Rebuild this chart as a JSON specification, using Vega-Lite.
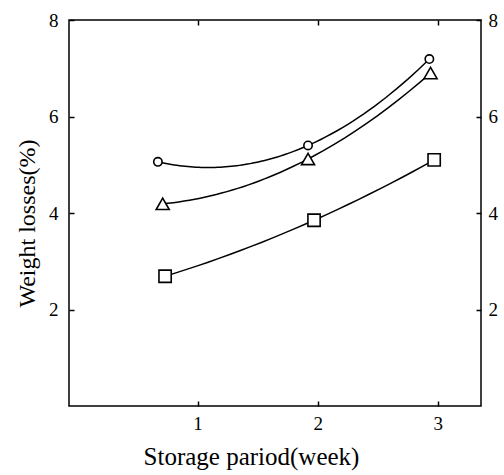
{
  "$schema": "https://vega.github.io/schema/vega-lite/v6.json",
  "width": 412,
  "height": 386,
  "autosize": {"type": "none"},
  "padding": {"left": 69, "top": 20, "right": 23, "bottom": 69},
  "background": "white",
  "config": {
    "view": {"stroke": "black", "strokeWidth": 1.5},
    "font": "Liberation Serif",
    "axis": {"grid": false, "domain": false, "tickColor": "black", "tickWidth": 1.5, "labelColor": "black", "titleColor": "black", "labelFont": "Liberation Serif", "titleFont": "Liberation Serif", "labelFontSize": 19, "titleFontSize": 24, "titleFontWeight": "normal"}
  },
  "data": {
    "values": [
      {"series": "A", "week": 0.67, "loss": 5.06},
      {"series": "A", "week": 1.92, "loss": 5.4},
      {"series": "A", "week": 2.93, "loss": 7.19},
      {"series": "B", "week": 0.71, "loss": 4.19},
      {"series": "B", "week": 1.92, "loss": 5.12},
      {"series": "B", "week": 2.94, "loss": 6.9},
      {"series": "C", "week": 0.73, "loss": 2.69},
      {"series": "C", "week": 1.97, "loss": 3.85},
      {"series": "C", "week": 2.97, "loss": 5.1}
    ]
  },
  "layer": [
    {
      "transform": [{"regression": "loss", "on": "week", "groupby": ["series"], "method": "poly", "order": 2}],
      "mark": {"type": "line", "color": "black", "strokeWidth": 1.5},
      "encoding": {
        "detail": {"field": "series"},
        "x": {"field": "week", "type": "quantitative", "scale": {"domain": [-0.07, 3.36], "nice": false, "zero": false}, "axis": {"orient": "bottom", "values": [1, 2, 3], "tickSize": -5, "labelPadding": 13, "title": "Storage pariod(week)", "titleFontSize": 25, "titlePadding": 11, "titleX": 182, "titleAnchor": null}},
        "y": {"field": "loss", "type": "quantitative", "scale": {"domain": [0, 8], "nice": false}, "axis": {"orient": "left", "values": [2, 4, 6, 8], "tickSize": -5, "labelPadding": 16, "title": "Weight losses(%)", "titlePadding": 9, "titleY": 203}}
      }
    },
    {
      "mark": {"type": "point", "filled": true, "fill": "white", "stroke": "black", "strokeWidth": 1.6, "opacity": 1},
      "encoding": {
        "shape": {"field": "series", "scale": {"domain": ["A", "B", "C"], "range": ["circle", "triangle-up", "square"]}, "legend": null},
        "size": {"field": "series", "type": "nominal", "scale": {"type": "ordinal", "domain": ["A", "B", "C"], "range": [70, 170, 150]}, "legend": null},
        "x": {"field": "week", "type": "quantitative", "scale": {"domain": [-0.07, 3.36], "nice": false, "zero": false}, "axis": {"orient": "top", "values": [1, 2, 3], "tickSize": -5, "labels": false, "title": null}},
        "y": {"field": "loss", "type": "quantitative", "scale": {"domain": [0, 8], "nice": false}, "axis": {"orient": "right", "values": [2, 4, 6, 8], "tickSize": -5, "labelPadding": 12, "title": null}}
      }
    }
  ],
  "resolve": {"axis": {"x": "independent", "y": "independent"}}
}
